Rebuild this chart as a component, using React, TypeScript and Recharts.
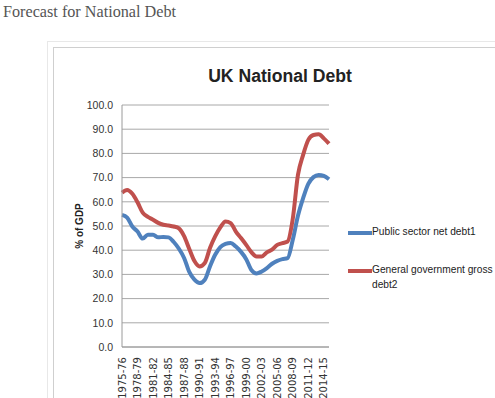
import React from 'react';
import { LineChart, Line, XAxis, YAxis, CartesianGrid, Legend } from 'recharts';

const years = [
  '1975-76', '1976-77', '1977-78', '1978-79', '1979-80', '1980-81', '1981-82', '1982-83',
  '1983-84', '1984-85', '1985-86', '1986-87', '1987-88', '1988-89', '1989-90', '1990-91',
  '1991-92', '1992-93', '1993-94', '1994-95', '1995-96', '1996-97', '1997-98', '1998-99',
  '1999-00', '2000-01', '2001-02', '2002-03', '2003-04', '2004-05', '2005-06', '2006-07',
  '2007-08', '2008-09', '2009-10', '2010-11', '2011-12', '2012-13', '2013-14', '2014-15',
  '2015-16'
];

const netDebt = [
  54.6, 53.5, 49.8, 47.7, 44.8, 46.4, 46.4, 45.3, 45.5, 45.3, 43.4, 40.6, 36.8, 31.0, 27.8, 26.4,
  27.8, 33.3, 38.1, 41.3, 42.6, 43.0, 41.5, 39.3, 36.3, 31.8, 30.4, 31.2, 32.6, 34.4, 35.6, 36.3,
  36.7, 44.3, 54.2, 61.5, 67.4, 70.2, 71.1, 70.7, 69.3
];

const grossDebt = [
  63.8, 64.9, 63.3, 59.8, 55.5, 53.8, 52.6, 51.3, 50.5, 50.2, 49.8, 49.0, 45.8, 40.5, 35.5, 33.3,
  34.7, 40.9, 45.7, 49.4, 51.9, 51.2, 47.7, 45.0, 42.2, 39.2, 37.4, 37.4, 39.1, 40.2, 42.2, 42.9,
  43.6, 53.0, 71.1, 79.4, 85.6, 87.6, 87.9, 86.2, 84.0
];

const yTicks = [0, 10, 20, 30, 40, 50, 60, 70, 80, 90, 100];

const series = [
  { key: 'net', name: 'Public sector net debt1', color: '#4f81bd' },
  { key: 'gross', name: 'General government gross debt2', color: '#c0504d' }
];

const data = years.map((year, i) => ({ year, net: netDebt[i], gross: grossDebt[i] }));

const XTick = (props: any) => {
  const { x, y, payload } = props;
  return (
    <text
      x={x}
      y={y}
      transform={`rotate(-90, ${x}, ${y})`}
      textAnchor="end"
      dominantBaseline="central"
      fontSize={10}
      fontFamily="DejaVu Sans"
      fill="#333"
    >
      {payload.value}
    </text>
  );
};

const renderLegend = () => (
  <div style={{ fontFamily: 'Liberation Sans', fontSize: 10.2, color: '#222' }}>
    {series.map((s, i) => (
      <div key={s.key} style={{ display: 'flex', alignItems: 'flex-start', marginBottom: i === 0 ? 25 : 0 }}>
        <div style={{ width: 24, height: 4, background: s.color, marginTop: 5, flexShrink: 0 }} />
        <div style={{ width: 122, lineHeight: '15px', marginTop: -2 }}>{s.name}</div>
      </div>
    ))}
  </div>
);

export default function App() {
  return (
    <div style={{ position: 'absolute', left: 0, top: 0, width: 495, height: 398, overflow: 'hidden', background: '#fff' }}>
      <div
        style={{
          position: 'absolute', left: 3, top: 1.5, fontFamily: 'Liberation Serif', fontSize: 16.2,
          lineHeight: '20px', color: '#555', whiteSpace: 'nowrap'
        }}
      >
        Forecast for National Debt
      </div>
      <div style={{ position: 'absolute', left: 47, top: 41, width: 500, height: 400, border: '1px solid #e8e8e8' }} />
      <div style={{ position: 'absolute', left: 53, top: 47, width: 500, height: 400, border: '1px solid #cfcfcf' }} />
      <div
        style={{
          position: 'absolute', left: 180, top: 66, width: 200, textAlign: 'center',
          fontFamily: 'Liberation Sans', fontWeight: 'bold', fontSize: 17.6, lineHeight: '20px', color: '#222'
        }}
      >
        UK National Debt
      </div>
      <div style={{ position: 'absolute', left: 0, top: 0 }}>
        <LineChart width={495} height={398} data={data} margin={{ top: 105, right: 166, bottom: 6, left: 72 }}>
          <CartesianGrid vertical={false} stroke="#a8a8a8" />
          <XAxis
            dataKey="year"
            interval={2}
            height={45}
            tick={<XTick />}
            tickSize={0}
            tickMargin={10}
            axisLine={{ stroke: '#9a9a9a' }}
            tickLine={false}
          />
          <YAxis
            domain={[0, 100]}
            ticks={yTicks}
            width={50}
            tickSize={0}
            tickMargin={9}
            tickLine={false}
            axisLine={{ stroke: '#9a9a9a' }}
            tickFormatter={(v: number) => v.toFixed(1)}
            tick={{ fontSize: 10.5, fontFamily: 'Liberation Sans', fill: '#333' }}
            label={{
              content: ({ viewBox }: any) => {
                const cx = viewBox.x + 7;
                const cy = viewBox.y + viewBox.height / 2;
                return (
                  <text
                    x={cx}
                    y={cy}
                    transform={`rotate(-90, ${cx}, ${cy})`}
                    textAnchor="middle"
                    dominantBaseline="central"
                    fontSize={10}
                    fontWeight="bold"
                    fontFamily="Liberation Sans"
                    fill="#222"
                  >
                    % of GDP
                  </text>
                );
              }
            }}
          />
          <Legend
            layout="vertical"
            align="center"
            verticalAlign="middle"
            content={renderLegend}
            wrapperStyle={{ position: 'absolute', left: 348, top: 226, width: 150 }}
          />
          {series.map((s) => (
            <Line
              key={s.key}
              type="monotone"
              dataKey={s.key}
              name={s.name}
              stroke={s.color}
              strokeWidth={4}
              dot={false}
              isAnimationActive={false}
            />
          ))}
        </LineChart>
      </div>
    </div>
  );
}
